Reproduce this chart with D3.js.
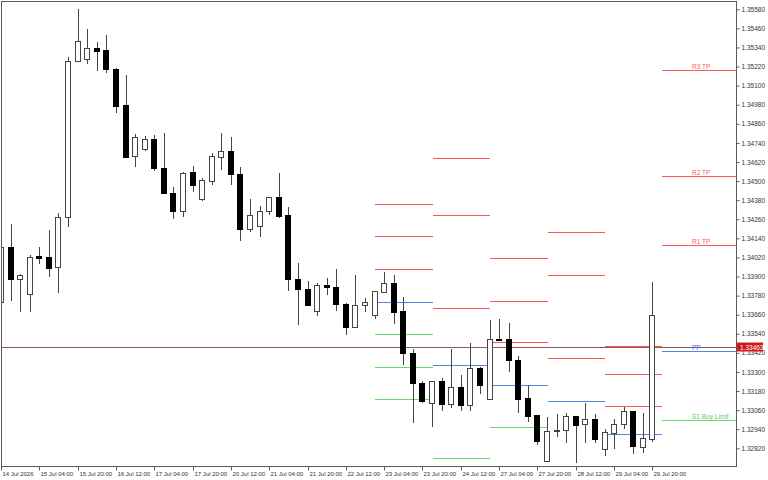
<!DOCTYPE html>
<html><head><meta charset="utf-8">
<script src="https://cdn.jsdelivr.net/npm/d3@7"></script>
<style>
body{margin:0;background:#fff}
svg{display:block;font-family:"Liberation Sans",Arial,sans-serif}
</style>
</head><body>
<svg id="chart" width="768" height="480"></svg>
<script>
// ---- data (H4 bars, 14 Jul 2026 12:00 .. 29 Jul 2026 20:00) ----
const opens  = [1.33738,1.34087,1.33883,1.33788,1.34029,1.34023,1.33958,1.34276,1.35255,1.35269,1.35335,1.35322,1.35207,1.34976,1.34658,1.34704,1.34766,1.34584,1.34423,1.34314,1.34557,1.34385,1.34502,1.34653,1.34691,1.34545,1.34201,1.34218,1.34310,1.34398,1.34289,1.33886,1.33820,1.33681,1.33849,1.33832,1.33729,1.33585,1.33721,1.33660,1.33803,1.33861,1.33683,1.33421,1.33232,1.33103,1.33241,1.33099,1.33207,1.33090,1.33325,1.33132,1.33505,1.33505,1.33375,1.33136,1.33027,1.32738,1.32929,1.32935,1.33023,1.32973,1.33006,1.32814,1.32918,1.32973,1.33053,1.32830,1.32880];
const highs  = [1.34130,1.34228,1.33916,1.34033,1.34087,1.34193,1.34298,1.35278,1.35580,1.35458,1.35374,1.35420,1.35210,1.35165,1.34796,1.34783,1.34792,1.34804,1.34461,1.34557,1.34595,1.34521,1.34675,1.34804,1.34779,1.34587,1.34389,1.34343,1.34402,1.34553,1.34335,1.33983,1.33870,1.33861,1.33891,1.33949,1.33735,1.33908,1.33765,1.33810,1.33928,1.33908,1.33769,1.33446,1.33241,1.33245,1.33262,1.33442,1.33279,1.33484,1.33328,1.33627,1.33631,1.33610,1.33400,1.33216,1.33030,1.33015,1.33036,1.33044,1.33026,1.33107,1.33036,1.32940,1.33006,1.33082,1.33056,1.33040,1.33866];
const lows   = [1.33690,1.33748,1.33675,1.33679,1.33977,1.33899,1.33798,1.34209,1.35250,1.35236,1.35190,1.35181,1.34930,1.34648,1.34587,1.34691,1.34565,1.34419,1.34260,1.34276,1.34431,1.34377,1.34477,1.34570,1.34477,1.34121,1.34180,1.34147,1.34285,1.34268,1.33811,1.33593,1.33715,1.33652,1.33786,1.33685,1.33534,1.33581,1.33677,1.33631,1.33798,1.33602,1.33342,1.32981,1.33107,1.32952,1.33056,1.33073,1.33053,1.33053,1.33161,1.33128,1.33492,1.33300,1.33040,1.32985,1.32839,1.32735,1.32893,1.32851,1.32726,1.32851,1.32851,1.32772,1.32814,1.32940,1.32784,1.32792,1.32860];
const closes = [1.34087,1.33883,1.33908,1.34023,1.34018,1.33955,1.34276,1.35257,1.35383,1.35335,1.35320,1.35203,1.34972,1.34653,1.34779,1.34766,1.34584,1.34423,1.34310,1.34553,1.34473,1.34505,1.34658,1.34691,1.34543,1.34201,1.34285,1.34310,1.34398,1.34281,1.33883,1.33820,1.33723,1.33845,1.33832,1.33729,1.33585,1.33723,1.33742,1.33807,1.33861,1.33679,1.33417,1.33229,1.33116,1.33241,1.33099,1.33207,1.33094,1.33325,1.33216,1.33505,1.33500,1.33375,1.33132,1.33023,1.32868,1.32927,1.32932,1.33023,1.32968,1.33006,1.32880,1.32923,1.32973,1.33053,1.32834,1.32885,1.33656];

const xTickLabels = ["14 Jul 2026","15 Jul 04:00","15 Jul 20:00","16 Jul 12:00","17 Jul 04:00","17 Jul 20:00","20 Jul 12:00","21 Jul 04:00","21 Jul 20:00","22 Jul 12:00","23 Jul 04:00","23 Jul 20:00","24 Jul 12:00","27 Jul 04:00","27 Jul 20:00","28 Jul 12:00","29 Jul 04:00","29 Jul 20:00"];
const xTickEvery = 4;
const yTickValues = [1.35580,1.35460,1.35340,1.35220,1.35100,1.34980,1.34860,1.34740,1.34620,1.34500,1.34380,1.34260,1.34140,1.34020,1.33900,1.33780,1.33660,1.33540,1.33420,1.33300,1.33180,1.33060,1.32940,1.32820];

// daily pivot levels: day label, first bar index of the day
const pivotDays  = ["23 Jul","24 Jul","27 Jul","28 Jul","29 Jul","30 Jul"];
const pivotStart = [39,45,51,57,63,69];
const pivotR3 = [1.34354,1.34645,1.34015,1.34183,1.33463,1.35198];
const pivotR2 = [1.34153,1.34287,1.33748,1.33908,1.33285,1.34532];
const pivotR1 = [1.33947,1.33704,1.33486,1.33386,1.33084,1.34096];
const pivotPP = [1.33740,1.33342,1.33216,1.33116,1.32908,1.33430];
const pivotS1 = [1.33539,1.32757,1.32952,null,1.32707,1.32996];
const pivotS2 = [1.33333,null,null,null,null,null];
const pivotS3 = [1.33128,null,null,null,null,null];
const currentLabels = {R3:"R3 TP",R2:"R2 TP",R1:"R1 TP",PP:"PP",S1:"S1 Buy Limit"};
const bidPrice = 1.33463;

// ---- layout ----
const W = 768, H = 480;
const plot = {left:1.5, top:1.5, right:736.5, bottom:466.5};
const svg = d3.select("#chart");

const x = d3.scaleLinear().domain([0, 68]).range([1.5, 652.9]);
const y = d3.scaleLinear().domain([1.32820, 1.35580]).range([448.3, 9.3]);
const px = v => Math.floor(x(v));
const py = v => Math.round(y(v)) + 0.5;

svg.append("rect").attr("width",W).attr("height",H).attr("fill","#fff");

svg.append("defs").append("clipPath").attr("id","clip")
  .append("rect").attr("x",plot.left).attr("y",plot.top)
  .attr("width",plot.right-plot.left).attr("height",plot.bottom-plot.top);

const g = svg.append("g").attr("clip-path","url(#clip)");

// pivot lines
const levelDefs = [
  {key:"R3", vals:pivotR3, color:"#ff5555"},
  {key:"R2", vals:pivotR2, color:"#ff5555"},
  {key:"R1", vals:pivotR1, color:"#ff5555"},
  {key:"PP", vals:pivotPP, color:"#5585e0"},
  {key:"S1", vals:pivotS1, color:"#66dd66"},
  {key:"S2", vals:pivotS2, color:"#66dd66"},
  {key:"S3", vals:pivotS3, color:"#66dd66"}
];
const segs = [];
levelDefs.forEach(L => {
  L.vals.forEach((v,i) => {
    if (v == null) return;
    const last = i === pivotDays.length-1;
    segs.push({key:L.key, v, color:L.color, x0:x(pivotStart[i]), x1: last ? plot.right : x(pivotStart[i]+6), last});
  });
});
g.selectAll("line.piv").data(segs).join("line").attr("class","piv")
  .attr("x1",d=>Math.round(d.x0)).attr("x2",d=>Math.round(d.x1))
  .attr("y1",d=>py(d.v)).attr("y2",d=>py(d.v))
  .attr("stroke",d=>d.color).attr("stroke-width",1);

// current price line
g.append("line").attr("x1",plot.left).attr("x2",plot.right)
  .attr("y1",py(bidPrice)+1).attr("y2",py(bidPrice)+1)
  .attr("stroke","#8c5a5a").attr("stroke-width",1);

// candles
const bars = opens.map((o,i)=>({i,o,h:highs[i],l:lows[i],c:closes[i]}));
const cg = g.selectAll("g.bar").data(bars).join("g").attr("class","bar");
cg.append("line")
  .attr("x1",d=>px(d.i)+0.5).attr("x2",d=>px(d.i)+0.5)
  .attr("y1",d=>Math.round(y(d.h))).attr("y2",d=>Math.round(y(d.l)))
  .attr("stroke","#444").attr("stroke-width",1);
cg.append("rect")
  .attr("x",d=>px(d.i)-2.5).attr("width",5)
  .attr("y",d=>Math.round(y(Math.max(d.o,d.c)))+0.5)
  .attr("height",d=>Math.max(1, Math.round(y(Math.min(d.o,d.c))) - Math.round(y(Math.max(d.o,d.c)))))
  .attr("fill",d=>d.c>=d.o ? "#fff" : "#000")
  .attr("stroke",d=>d.c>=d.o ? "#444" : "#000").attr("stroke-width",1);

// labels of the current day pivots
const lbl = segs.filter(d=>d.last);
svg.selectAll("text.pl").data(lbl).join("text").attr("class","pl")
  .attr("x",692).attr("y",d=>py(d.v)-2)
  .attr("font-size","6.5px")
  .attr("fill",d=>d.key==="PP" ? "#3a5ae8" : (d.key[0]==="R" ? "#ff5a5a" : "#5ccc5c"))
  .text(d=>currentLabels[d.key]);

// frame
svg.append("rect").attr("x",plot.left).attr("y",plot.top)
  .attr("width",plot.right-plot.left).attr("height",plot.bottom-plot.top)
  .attr("fill","none").attr("stroke","#5a5a5a").attr("stroke-width",1);

// y axis (right)
const yAxis = d3.axisRight(y).tickValues(yTickValues).tickFormat(d3.format(".5f")).tickSize(3).tickPadding(2);
const ya = svg.append("g").attr("transform",`translate(${plot.right},0)`).call(yAxis);
ya.select(".domain").remove();
ya.selectAll(".tick line").attr("stroke","#5a5a5a");
ya.selectAll(".tick text").attr("font-size","6.5px").attr("fill","#333").attr("font-family","Liberation Sans, Arial, sans-serif");

// x axis (bottom)
const xTicks = xTickLabels.map((_,k)=>k*xTickEvery);
const xAxis = d3.axisBottom(x).tickValues(xTicks).tickFormat((d,k)=>xTickLabels[k]).tickSize(4).tickPadding(1);
const xa = svg.append("g").attr("transform",`translate(0,${plot.bottom})`).call(xAxis);
xa.select(".domain").remove();
xa.selectAll(".tick").attr("transform",d=>`translate(${px(d)+0.5},0)`);
xa.selectAll(".tick line").attr("stroke","#5a5a5a");
xa.selectAll(".tick text").attr("text-anchor","start").attr("dx","1")
  .attr("font-size","6px").attr("fill","#333").attr("font-family","Liberation Sans, Arial, sans-serif");

// current price tag
const by = py(bidPrice)+1;
svg.append("rect").attr("x",737).attr("y",by-5).attr("width",26).attr("height",9).attr("fill","#d01818");
svg.append("text").attr("x",740).attr("y",by+2.3).attr("font-size","6.5px").attr("fill","#fff")
  .text(d3.format(".5f")(bidPrice));
</script>
</body></html>
